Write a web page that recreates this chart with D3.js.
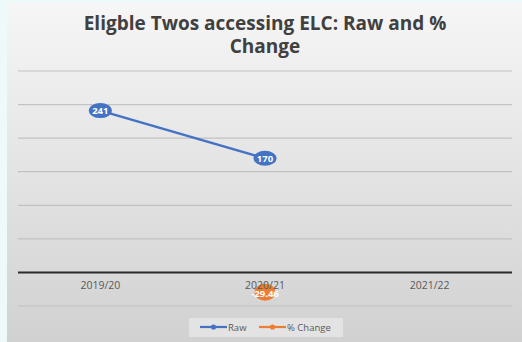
<!DOCTYPE html>
<html>
<head>
<meta charset="utf-8">
<script src="https://cdn.jsdelivr.net/npm/d3@7"></script>
<style>
  body { margin: 0; background: #eefafa; }
  svg { display: block; }
</style>
</head>
<body>
<div id="chart"></div>
<script>
var years = ["2019/20", "2020/21", "2021/22"];
var rawValues = [241, 170, null];
var pctChange = [null, -29.46, null];
var yTicks = [-50, 0, 50, 100, 150, 200, 250, 300];

var W = 522, H = 342;
var plot = {left: 18, right: 512, top: 71, bottom: 306};

var svg = d3.select("#chart").append("svg")
    .attr("width", W)
    .attr("height", H);

var defs = svg.append("defs");
var grad = defs.append("linearGradient")
    .attr("id", "bg")
    .attr("x1", 0).attr("y1", 0).attr("x2", 0).attr("y2", 1);
grad.append("stop").attr("offset", "0%").attr("stop-color", "#f6f6f6");
grad.append("stop").attr("offset", "100%").attr("stop-color", "#d1d1d1");

// chart panel
svg.append("rect")
    .attr("x", 7).attr("y", 3)
    .attr("width", W - 7).attr("height", H - 3)
    .attr("fill", "url(#bg)");

var x = d3.scaleBand().domain(years).range([plot.left, plot.right]);
var y = d3.scaleLinear().domain([-50, 300]).range([plot.bottom, plot.top]);

// gridlines
svg.append("g")
  .selectAll("line")
  .data(yTicks.filter(function(d) { return d !== 0; }))
  .enter()
  .append("line")
    .attr("x1", plot.left).attr("x2", plot.right)
    .attr("y1", function(d) { return y(d); })
    .attr("y2", function(d) { return y(d); })
    .attr("stroke", "#c2c2c2")
    .attr("stroke-width", 1.2);

// zero axis
svg.append("line")
    .attr("x1", plot.left).attr("x2", plot.right)
    .attr("y1", y(0)).attr("y2", y(0))
    .attr("stroke", "#2b2b2b")
    .attr("stroke-width", 2);

// title
var title = svg.append("text")
    .attr("text-anchor", "middle")
    .attr("font-family", "Open Sans, sans-serif")
    .attr("font-weight", "bold")
    .attr("font-size", "19px")
    .attr("fill", "#404040");
title.append("tspan").attr("x", 265).attr("y", 30).text("Eligble Twos accessing ELC: Raw and %");
title.append("tspan").attr("x", 265).attr("y", 53).text("Change");

function drawSeries(values, color, rx, ry) {
  var pts = years.map(function(c, i) { return {cat: c, v: values[i]}; })
                 .filter(function(d) { return d.v !== null; });
  var line = d3.line()
      .x(function(d) { return x(d.cat) + x.bandwidth() / 2; })
      .y(function(d) { return y(d.v); });
  var g = svg.append("g");
  g.append("path")
      .datum(pts)
      .attr("d", line)
      .attr("fill", "none")
      .attr("stroke", color)
      .attr("stroke-width", 2.5);
  g.selectAll("ellipse")
      .data(pts)
      .enter()
      .append("ellipse")
      .attr("cx", function(d) { return x(d.cat) + x.bandwidth() / 2; })
      .attr("cy", function(d) { return y(d.v); })
      .attr("rx", rx)
      .attr("ry", ry)
      .attr("fill", color);
  return pts;
}

function drawLabels(pts, dy) {
  svg.append("g").selectAll("text")
      .data(pts)
      .enter()
      .append("text")
      .attr("x", function(d) { return x(d.cat) + x.bandwidth() / 2; })
      .attr("y", function(d) { return y(d.v) + dy; })
      .attr("text-anchor", "middle")
      .attr("font-family", "Open Sans, sans-serif")
      .attr("font-weight", "bold")
      .attr("font-size", "9.5px")
      .attr("fill", "#ffffff")
      .text(function(d) { return d.v; });
}

var rawPts = drawSeries(rawValues, "#4472c4", 11.5, 7.5);
var pctPts = drawSeries(pctChange, "#ed7d31", 10.5, 8.5);

// category labels
svg.append("g")
  .selectAll("text")
  .data(years)
  .enter()
  .append("text")
    .attr("x", function(d) { return x(d) + x.bandwidth() / 2; })
    .attr("y", y(0) + 17)
    .attr("text-anchor", "middle")
    .attr("font-family", "Open Sans, sans-serif")
    .attr("font-size", "10.5px")
    .attr("fill", "#595959")
    .text(function(d) { return d; });

drawLabels(rawPts, 3.5);
drawLabels(pctPts, 5);

// legend
var legend = svg.append("g");
legend.append("rect")
    .attr("x", 189).attr("y", 318)
    .attr("width", 154).attr("height", 19)
    .attr("fill", "#e3e3e3");
var items = [{name: "Raw", color: "#4472c4", x: 200}, {name: "% Change", color: "#ed7d31", x: 259}];
items.forEach(function(it) {
  legend.append("line")
      .attr("x1", it.x).attr("x2", it.x + 27)
      .attr("y1", 327).attr("y2", 327)
      .attr("stroke", it.color).attr("stroke-width", 2.2);
  legend.append("circle")
      .attr("cx", it.x + 13.5).attr("cy", 327).attr("r", 2.6)
      .attr("fill", it.color);
  legend.append("text")
      .attr("x", it.x + 28).attr("y", 330.5)
      .attr("font-family", "Open Sans, sans-serif")
      .attr("font-size", "9.5px")
      .attr("fill", "#595959")
      .text(it.name);
});
</script>
</body>
</html>
